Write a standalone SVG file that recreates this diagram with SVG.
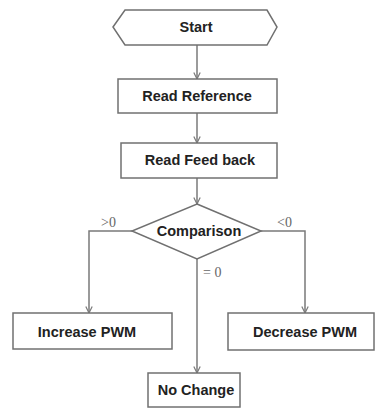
<svg xmlns="http://www.w3.org/2000/svg" width="377" height="408" viewBox="0 0 377 408">
  <style>
    .shape { fill: #ffffff; stroke: #707070; stroke-width: 1.5; }
    .lbl { font-family: "Liberation Sans", Arial, sans-serif; font-weight: bold; font-size: 14.5px; fill: #222222; text-anchor: middle; dominant-baseline: central; }
    .edge { fill: none; stroke: #7a7a7a; stroke-width: 1.5; }
    .cond { font-family: "Liberation Serif", "Times New Roman", serif; font-size: 14px; fill: #666666; }
  </style>
  <defs>
    <marker id="arrow" viewBox="0 0 10 10" refX="9" refY="5" markerWidth="8" markerHeight="8" markerUnits="userSpaceOnUse" orient="auto">
      <path d="M1,1 L9,5 L1,9" fill="none" stroke="#7a7a7a" stroke-width="1.5"/>
    </marker>
  </defs>
  <rect width="377" height="408" fill="#ffffff"/>

  <g id="connectors">
    <line class="edge" x1="197" y1="45" x2="197" y2="79" marker-end="url(#arrow)"/>
    <line class="edge" x1="197" y1="113" x2="197" y2="143" marker-end="url(#arrow)"/>
    <line class="edge" x1="197" y1="178" x2="197" y2="204" marker-end="url(#arrow)"/>
    <polyline class="edge" points="132,231 89,231 89,313" marker-end="url(#arrow)"/>
    <polyline class="edge" points="261,231 305,231 305,313" marker-end="url(#arrow)"/>
    <line class="edge" x1="197" y1="259" x2="197" y2="373" marker-end="url(#arrow)"/>
    <text class="cond" x="101" y="227">&gt;0</text>
    <text class="cond" x="277" y="227">&lt;0</text>
    <text class="cond" x="203" y="277">= 0</text>
  </g>

  <g id="start">
    <polygon class="shape" points="113,27 125,10 267,10 277,27 267,45 125,45"/>
    <text class="lbl" x="196" y="27">Start</text>
  </g>

  <g id="read-reference">
    <rect class="shape" x="118" y="79" width="159" height="34"/>
    <text class="lbl" x="197" y="96">Read Reference</text>
  </g>

  <g id="read-feedback">
    <rect class="shape" x="121" y="143" width="156" height="35"/>
    <text class="lbl" x="200" y="160">Read Feed back</text>
  </g>

  <g id="comparison">
    <polygon class="shape" points="197,204 261,231 197,259 132,231"/>
    <text class="lbl" x="199" y="231">Comparison</text>
  </g>

  <g id="increase-pwm">
    <rect class="shape" x="13" y="313" width="159" height="36"/>
    <text class="lbl" x="87" y="332">Increase PWM</text>
  </g>

  <g id="decrease-pwm">
    <rect class="shape" x="228" y="313" width="146" height="37"/>
    <text class="lbl" x="305" y="332">Decrease PWM</text>
  </g>

  <g id="no-change">
    <rect class="shape" x="148" y="373" width="92" height="34"/>
    <text class="lbl" x="196" y="390">No Change</text>
  </g>
</svg>
